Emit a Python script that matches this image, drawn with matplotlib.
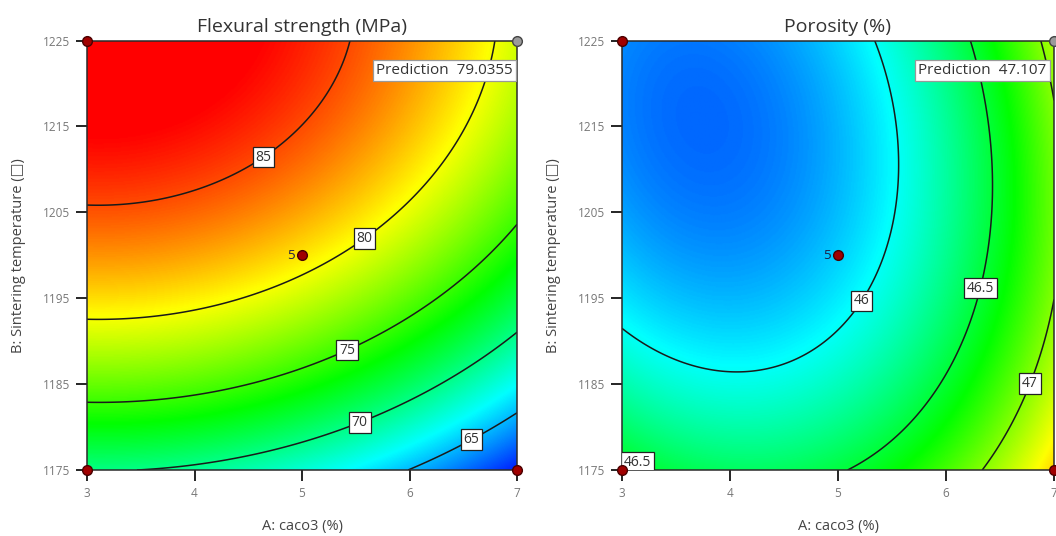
import numpy as np
import matplotlib.pyplot as plt
from matplotlib.colors import LinearSegmentedColormap

plt.rcParams['font.family'] = ['Open Sans', 'DejaVu Sans']

# factor ranges
A_range = [3, 7]
B_range = [1175, 1225]
A_ticks = [3, 4, 5, 6, 7]
B_ticks = [1175, 1185, 1195, 1205, 1215, 1225]

# design points (A, B) and the centre point replicate count
design_A = [3, 3, 7, 5]
design_B = [1225, 1175, 1175, 1200]
center_count = 5

# prediction flag at the top-right corner
pred_A = 7
pred_B = 1225

# ---- Flexural strength: points ----
flex_levels = [65, 70, 75, 80, 85]
flex_A = [3.00, 3.55, 4.17, 4.64, 4.98, 5.29, 5.49,
          3.00, 4.98, 5.56, 6.22, 6.70, 6.80,
          3.00, 4.98, 5.40, 6.22, 6.84, 7.00,
          3.59, 4.98, 5.52, 6.22, 7.00,
          6.05, 6.54, 7.00]
flex_B = [1206.2, 1206.4, 1208.4, 1211.1, 1214.6, 1218.4, 1225.0,
          1192.7, 1196.9, 1202.3, 1210.7, 1220.4, 1225.0,
          1182.9, 1186.2, 1189.5, 1194.8, 1200.6, 1203.0,
          1175.0, 1177.6, 1181.1, 1185.1, 1190.4,
          1175.0, 1179.4, 1181.1]
flex_val = [85] * 7 + [80] * 6 + [75] * 6 + [70] * 5 + [65] * 3
flex_pred = 79.0355
flex_label_pos = [(4.64, 1211.5), (5.56, 1202.3), (5.40, 1189.5),
                  (5.52, 1181.1), (6.54, 1179.4)]
flex_color_range = [60.0, 87.0]

# ---- Porosity: points ----
poro_levels = [46, 46.5, 47]
poro_A = [3.00, 4.11, 4.79, 5.18, 5.44, 5.56, 5.34,
          6.24, 6.43, 6.44, 6.31, 6.02, 5.06, 3.00, 3.32,
          6.89, 6.98, 7.00, 6.75, 6.34]
poro_B = [1191.5, 1186.6, 1189.7, 1195.0, 1200.6, 1210.7, 1225.0,
          1225.0, 1210.7, 1200.6, 1196.2, 1185.1, 1175.0, 1176.5, 1175.0,
          1225.0, 1218.4, 1195.1, 1185.2, 1175.0]
poro_val = [46] * 7 + [46.5] * 8 + [47] * 5
poro_pred = 47.107
poro_label_pos = [(5.18, 1195.0), (6.31, 1196.2), (6.75, 1185.2), (3.2, 1177.2)]
poro_color_range = [45.3, 48.0]


def terms(a, b):
    # quadratic response-surface terms in coded units
    x1 = (np.asarray(a, float) - 5) / 2
    x2 = (np.asarray(b, float) - 1200) / 25
    return np.stack([np.ones_like(x1), x1, x2, x1 * x2, x1 ** 2, x2 ** 2], axis=-1)


def fit_model(a, b, z, pa, pb, pz):
    X = np.vstack([terms(a, b), 6 * terms([pa], [pb])])
    y = np.concatenate([np.asarray(z, float), 6 * np.array([pz])])
    coef, *_ = np.linalg.lstsq(X, y, rcond=None)
    return coef


cmap = LinearSegmentedColormap.from_list(
    'rsm', ['#0000ff', '#00ffff', '#00ff00', '#ffff00', '#ff0000'])

ga = np.linspace(A_range[0], A_range[1], 400)
gb = np.linspace(B_range[0], B_range[1], 400)
GA, GB = np.meshgrid(ga, gb)

fig = plt.figure(figsize=(10.56, 5.36), dpi=100)
ax1 = fig.add_axes([87 / 1056, 66 / 536, 430 / 1056, 429.5 / 536])
ax2 = fig.add_axes([622 / 1056, 66 / 536, 432 / 1056, 429.5 / 536])

panels = [
    (ax1, 'Flexural strength (MPa)', flex_A, flex_B, flex_val, flex_pred,
     flex_levels, flex_label_pos, flex_color_range, '%.4f', 'right', 0.99),
    (ax2, 'Porosity (%)', poro_A, poro_B, poro_val, poro_pred,
     poro_levels, poro_label_pos, poro_color_range, '%.3f', 'left', 0.685),
]

for ax, title, ta, tb, tv, pv, levels, lpos, crange, fmt, pha, px in panels:
    coef = fit_model(ta, tb, tv, pred_A, pred_B, pv)
    Z = terms(GA, GB) @ coef

    ax.imshow(Z, origin='lower', extent=A_range + B_range, aspect='auto',
              cmap=cmap, vmin=crange[0], vmax=crange[1], interpolation='bilinear')
    cs = ax.contour(GA, GB, Z, levels=levels, colors='#1a1a1a', linewidths=1.1)
    labels = ax.clabel(cs, fmt='%g', manual=lpos, inline=False, fontsize=10)
    for t in labels:
        t.set_rotation(0)
        t.set_color('#333333')
        t.set_bbox(dict(facecolor='white', edgecolor='#222222',
                        boxstyle='square,pad=0.2', linewidth=0.9))

    # design points
    ax.plot(design_A, design_B, 'o', ms=7, mfc='#a00000', mec='#4a0000',
            mew=1, clip_on=False, zorder=5)
    ax.plot(pred_A, pred_B, 'o', ms=7, mfc='#9a9a9a', mec='#444444',
            mew=1, clip_on=False, zorder=5)
    ax.text(design_A[3] - 0.07, design_B[3], str(center_count), ha='right',
            va='center', fontsize=9.5, color='#1e1e46')

    # prediction flag
    ax.text(px, 0.93, 'Prediction  ' + fmt % pv, transform=ax.transAxes,
            ha=pha, va='center', fontsize=11, color='#333333',
            bbox=dict(facecolor='white', edgecolor='#999999',
                      boxstyle='square,pad=0.22', linewidth=0.9))

    ax.set_xlim(A_range)
    ax.set_ylim(B_range)
    ax.set_xticks(A_ticks)
    ax.set_yticks(B_ticks)
    ax.tick_params(direction='out', length=8, width=1.2, labelsize=8.5,
                   labelcolor='#777777', pad=4)
    for s in ax.spines.values():
        s.set_color('#2a2a2a')
        s.set_linewidth(1.1)

    ax.set_title(title, fontsize=14, color='#333333', pad=6)
    ax.set_xlabel('A: caco3 (%)', fontsize=10.5, color='#444444', labelpad=14)
    ax.set_ylabel('B: Sintering temperature (\u25a1)', fontsize=10.5,
                  color='#444444', labelpad=12)

fig.savefig('out.png', dpi=100)
